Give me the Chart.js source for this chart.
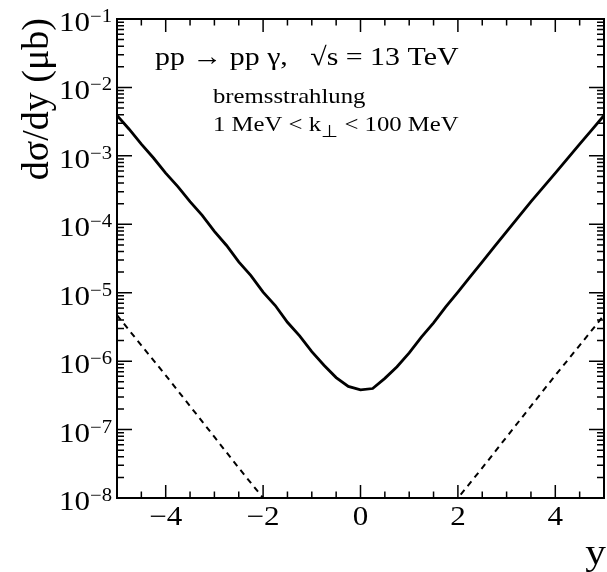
<!DOCTYPE html>
<html>
<head>
<meta charset="utf-8">
<script src="https://cdn.jsdelivr.net/npm/chart.js@4.4.1/dist/chart.umd.min.js"></script>
<style>
  html, body { margin: 0; padding: 0; background: #fff; }
  #wrap { width: 607px; height: 572px; }
</style>
</head>
<body>
<div id="wrap"><canvas id="myChart"></canvas></div>
<script>
// rapidity y and dsigma/dy (mub)
const rapidity = [-5, -4.75, -4.5, -4.25, -4, -3.75, -3.5, -3.25, -3, -2.75, -2.5, -2.25, -2, -1.75, -1.5, -1.25, -1, -0.75, -0.5, -0.25,
  0, 0.25, 0.5, 0.75, 1, 1.25, 1.5, 1.75, 2, 2.25, 2.5, 2.75, 3, 3.25, 3.5, 3.75, 4, 4.25, 4.5, 4.75, 5]
const bremsValues = [3.89e-3, 2.45e-3, 1.48e-3, 9.3e-4, 5.6e-4, 3.55e-4, 2.14e-4, 1.35e-4, 7.9e-5, 4.9e-5, 2.82e-5, 1.78e-5, 1.02e-5,
  6.5e-6, 3.7e-6, 2.34e-6, 1.38e-6, 8.7e-7, 5.75e-7, 4.27e-7, 3.8e-7, 3.98e-7, 5.6e-7, 8.3e-7, 1.32e-6, 2.24e-6, 3.63e-6, 6.2e-6,
  1.02e-5, 1.7e-5, 2.82e-5, 4.7e-5, 7.8e-5, 1.29e-4, 2.14e-4, 3.47e-4, 5.6e-4, 9.1e-4, 1.48e-3, 2.4e-3, 3.89e-3]

const dashLeftY = [-5, -4.5, -4, -3.5, -3, -2.5, -2, -1.5]
const dashLeftValues = [4.7e-6, 1.7e-6, 6.2e-7, 2.2e-7, 7.8e-8, 2.75e-8, 1.0e-8, 3.5e-9]
const dashRightY = [1.5, 2, 2.5, 3, 3.5, 4, 4.5, 5]
const dashRightValues = [3.5e-9, 1.0e-8, 2.75e-8, 7.8e-8, 2.2e-7, 6.2e-7, 1.7e-6, 4.7e-6]

const xTickLabels = [-4, -2, 0, 2, 4]
const decades = [-8, -7, -6, -5, -4, -3, -2, -1]

const FONT = '"Liberation Serif", "Times New Roman", serif'
const SX = 1.15 // text in the picture is a bit wide

function pts(xs, ys) {
  return xs.map((x, i) => ({ x: x, y: ys[i] }))
}

function txt(ctx, s, x, y, size, align) {
  ctx.save()
  ctx.font = size + 'px ' + FONT
  ctx.textAlign = align || 'left'
  ctx.textBaseline = 'alphabetic'
  ctx.translate(x, y)
  ctx.scale(SX, 1)
  ctx.fillText(s, 0, 0)
  ctx.restore()
}

function txtWidth(ctx, s, size) {
  ctx.font = size + 'px ' + FONT
  return ctx.measureText(s).width * SX
}

const frame = {
  id: 'frame',
  afterDraw(chart) {
    const { ctx, chartArea: a, scales: { x, y } } = chart
    ctx.save()
    ctx.fillStyle = '#000'
    ctx.strokeStyle = '#000'

    // ticks, inside, on all four sides
    ctx.lineWidth = 1.5
    ctx.beginPath()
    for (let v = -5; v <= 5; v += 0.5) {
      const px = x.getPixelForValue(v)
      const len = v % 2 === 0 ? 13 : 6.5
      ctx.moveTo(px, a.bottom); ctx.lineTo(px, a.bottom - len)
      ctx.moveTo(px, a.top); ctx.lineTo(px, a.top + len)
    }
    decades.forEach(d => {
      for (let k = 1; k <= 9; k++) {
        const v = k * Math.pow(10, d)
        if (v > 0.1 + 1e-12) break
        const py = y.getPixelForValue(v)
        const len = k === 1 ? 15 : 7
        ctx.moveTo(a.left, py); ctx.lineTo(a.left + len, py)
        ctx.moveTo(a.right, py); ctx.lineTo(a.right - len, py)
      }
    })
    ctx.stroke()

    ctx.lineWidth = 2
    ctx.strokeRect(a.left, a.top, a.right - a.left, a.bottom - a.top)

    // x tick labels
    xTickLabels.forEach(v => {
      const s = v < 0 ? '\u2212' + (-v) : String(v)
      txt(ctx, s, x.getPixelForValue(v), a.bottom + 27, 27, 'center')
    })

    // y tick labels 10^n
    decades.forEach(d => {
      const py = y.getPixelForValue(Math.pow(10, d))
      const sup = '\u2212' + (-d)
      const right = a.left - 5
      const w = txtWidth(ctx, sup, 18)
      txt(ctx, sup, right, py + 3, 18, 'right')
      txt(ctx, '10', right - w, py + 12, 27, 'right')
    })

    // axis titles
    ctx.save()
    ctx.translate(48, a.top - 1)
    ctx.rotate(-Math.PI / 2)
    ctx.font = '38px ' + FONT
    ctx.textAlign = 'right'
    ctx.fillText('d\u03c3/dy (\u03bcb)', 0, 0)
    ctx.restore()
    txt(ctx, 'y', 606, 564, 36, 'right')

    // labels in the plot
    txt(ctx, 'pp \u2192 pp \u03b3,   \u221as = 13 TeV', 155, 65, 26)
    txt(ctx, 'bremsstrahlung', 213, 103, 21.5)
    let cx = 213
    txt(ctx, '1 MeV < k', cx, 131, 21.5)
    cx += txtWidth(ctx, '1 MeV < k', 21.5)
    txt(ctx, '\u22a5', cx, 137, 17)
    cx += txtWidth(ctx, '\u22a5', 17)
    txt(ctx, ' < 100 MeV', cx, 131, 21.5)
    ctx.restore()
  }
}

const ctx = document.getElementById('myChart').getContext('2d')

const data = {
  datasets: [{
    label: 'bremsstrahlung',
    data: pts(rapidity, bremsValues),
    borderColor: '#000',
    borderWidth: 2.8,
    pointRadius: 0,
    tension: 0
  },
  {
    label: 'dashed left',
    data: pts(dashLeftY, dashLeftValues),
    borderColor: '#000',
    borderWidth: 2,
    borderDash: [6, 5],
    pointRadius: 0
  },
  {
    label: 'dashed right',
    data: pts(dashRightY, dashRightValues),
    borderColor: '#000',
    borderWidth: 2,
    borderDash: [6, 5],
    pointRadius: 0
  }]
}

const config = {
  type: 'line',
  data: data,
  options: {
    responsive: true,
    maintainAspectRatio: false,
    animation: false,
    layout: { padding: { left: 117, top: 19, right: 3, bottom: 74 } },
    plugins: { legend: { display: false }, tooltip: { enabled: false } },
    scales: {
      x: { type: 'linear', min: -5, max: 5, display: false },
      y: { type: 'logarithmic', min: 1e-8, max: 1e-1, display: false }
    }
  },
  plugins: [frame]
}

const myChart = new Chart(ctx, config)
</script>
</body>
</html>
